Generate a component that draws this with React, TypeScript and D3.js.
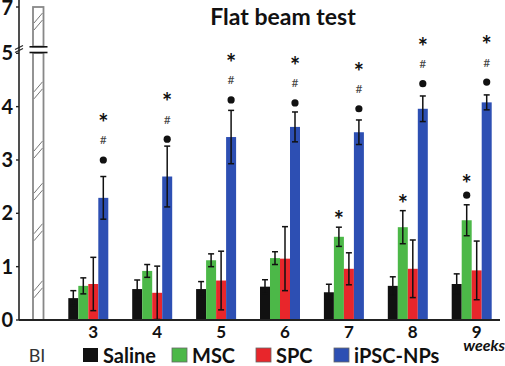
import React from "react";
import * as d3 from "d3";

const weeks = ["3", "4", "5", "6", "7", "8", "9"];
const series = ["Saline", "MSC", "SPC", "iPSC-NPs"];
const colors = ["#111111", "#4cb848", "#e8262b", "#2d4fb3"];
const salineMean = [0.41, 0.58, 0.58, 0.625, 0.52, 0.64, 0.675];
const salineErr = [0.14, 0.17, 0.14, 0.13, 0.15, 0.17, 0.19];
const mscMean = [0.64, 0.92, 1.12, 1.16, 1.56, 1.74, 1.87];
const mscErr = [0.15, 0.12, 0.12, 0.12, 0.18, 0.31, 0.29];
const spcMean = [0.675, 0.51, 0.74, 1.15, 0.96, 0.96, 0.93];
const spcErr = [0.5, 0.5, 0.55, 0.6, 0.3, 0.54, 0.55];
const ipscMean = [2.29, 2.69, 3.43, 3.62, 3.52, 3.96, 4.08];
const ipscErr = [0.4, 0.57, 0.5, 0.28, 0.23, 0.24, 0.14];
const yTicksLower = [0, 1, 2, 3, 4, 5];
const yTicksUpper = [7];
const blValue = 7;
// significance markers: symbols (bottom->top), base value of lowest symbol
const ipscMarkerBase = [3.0, 3.39, 4.125, 4.07, 3.96, 4.43, 4.46];
const ipscSymbols = ["dot", "#", "*"];
const mscMarkers: [number, string[], number][] = [
  [4, ["*"], 1.91],
  [5, ["*"], 2.21],
  [6, ["dot", "*"], 2.34],
];
const hatchValues = [4.39, 3.28, 2.49, 1.73, 0.66];
const hatchUpper = [6.5];

const means = [salineMean, mscMean, spcMean, ipscMean];
const errs = [salineErr, mscErr, spcErr, ipscErr];

const W = 505;
const H = 366;
const FONT = "Lato, 'Open Sans', sans-serif";

export default function App() {
  const y = d3.scaleLinear().domain([0, 5]).range([320, 53.3]);
  const yUp = d3.scaleLinear().domain([5, 7]).range([47, 7]);
  const x = d3.scalePoint().domain(weeks).range([88.3, 471.7]);
  const inner = d3.scaleBand().domain(series).range([-20, 20]).padding(0);
  const axisX = 19;
  const blX0 = 33;
  const blX1 = 43.5;

  const markerEls: React.ReactNode[] = [];
  const drawSymbols = (cx: number, syms: string[], base: number, spacing: number, key: string) => {
    const tspans: React.ReactNode[] = [];
    syms.forEach((s, i) => {
      const cy = y(base) - i * spacing;
      if (s === "dot") {
        markerEls.push(<circle key={key + "d" + i} cx={cx} cy={cy} r={3.6} fill="#111" />);
      } else if (s === "#") {
        tspans.push(
          <tspan key={i} x={cx} y={cy + 4} fontSize={12} fill="#444" fontWeight="normal">
            #
          </tspan>
        );
      } else {
        tspans.push(
          <tspan key={i} x={cx} y={cy + 11} fontSize={24} fontWeight="bold" fill="#111">
            *
          </tspan>
        );
      }
    });
    markerEls.push(
      <text key={key + "t"} textAnchor="middle" fontFamily={FONT}>
        {tspans}
      </text>
    );
  };
  weeks.forEach((w, wi) => {
    const cx = (x(w) as number) + (inner("iPSC-NPs") as number) + inner.bandwidth() / 2;
    drawSymbols(cx, ipscSymbols, ipscMarkerBase[wi], 19.5, "ip" + wi);
  });
  mscMarkers.forEach(([wi, syms, base]) => {
    const cx = (x(weeks[wi]) as number) + (inner("MSC") as number) + inner.bandwidth() / 2;
    drawSymbols(cx, syms, base, 13, "ms" + wi);
  });

  const hatch = (yc: number, k: string) => (
    <g key={k} stroke="#777" strokeWidth={1}>
      <line x1={blX0 + 1} y1={yc + 6} x2={blX1 - 1} y2={yc - 4} />
      <line x1={blX0 + 1} y1={yc + 13} x2={blX1 - 1} y2={yc + 3} />
    </g>
  );

  return (
    <svg width={W} height={H} style={{ position: "absolute", left: 0, top: 0, background: "#fff" }}>
      <rect width={W} height={H} fill="#fff" />
      {/* title */}
      <text x={283} y={25} textAnchor="middle" fontSize={23} fontWeight="bold" fontFamily={FONT} fill="#111">
        Flat beam test
      </text>

      {/* BI bar with break */}
      <rect x={blX0} y={53} width={blX1 - blX0} height={y(0) - 53} fill="#fff" stroke="#888" strokeWidth={1.8} />
      <rect x={blX0} y={yUp(blValue)} width={blX1 - blX0} height={46.5 - yUp(blValue)} fill="#fff" stroke="#888" strokeWidth={1.8} />
      {hatchValues.map((v, i) => hatch(y(v), "h" + i))}
      {hatchUpper.map((v, i) => hatch(yUp(v), "hu" + i))}
      <line x1={29.5} x2={47.5} y1={46.8} y2={46.8} stroke="#111" strokeWidth={1.6} />
      <line x1={29.5} x2={47.5} y1={52.5} y2={52.5} stroke="#111" strokeWidth={1.6} />

      {/* y axis */}
      <line x1={axisX} x2={axisX} y1={0} y2={y(0)} stroke="#222" strokeWidth={1.6} />
      <line x1={15} x2={23} y1={49.5} y2={45.5} stroke="#222" strokeWidth={1.2} />
      <line x1={15} x2={23} y1={52.5} y2={48.5} stroke="#222" strokeWidth={1.2} />
      {yTicksLower.map((t) => (
        <g key={"yt" + t}>
          <line x1={axisX - 3} x2={axisX} y1={y(t)} y2={y(t)} stroke="#222" strokeWidth={1.4} />
          <text x={13} y={y(t) + 7} textAnchor="end" fontSize={20} fontWeight="bold" fontFamily={FONT} fill="#111">
            {t}
          </text>
        </g>
      ))}
      {yTicksUpper.map((t) => (
        <g key={"ytu" + t}>
          <line x1={axisX - 3} x2={axisX} y1={yUp(t)} y2={yUp(t)} stroke="#222" strokeWidth={1.4} />
          <text x={13} y={yUp(t) + 8} textAnchor="end" fontSize={20} fontWeight="bold" fontFamily={FONT} fill="#111">
            {t}
          </text>
        </g>
      ))}

      {/* bars */}
      {weeks.map((w, wi) =>
        series.map((s, si) => {
          const bx = (x(w) as number) + (inner(s) as number);
          const v = means[si][wi];
          return (
            <rect key={w + s} x={bx} y={y(v)} width={inner.bandwidth()} height={y(0) - y(v)} fill={colors[si]} />
          );
        })
      )}
      {/* error bars */}
      {weeks.map((w, wi) =>
        series.map((s, si) => {
          const cx = (x(w) as number) + (inner(s) as number) + inner.bandwidth() / 2;
          const v = means[si][wi];
          const e = errs[si][wi];
          return (
            <g key={"e" + w + s} stroke="#111" strokeWidth={1.5}>
              <line x1={cx} x2={cx} y1={y(v + e)} y2={y(v - e)} />
              <line x1={cx - 3} x2={cx + 3} y1={y(v + e)} y2={y(v + e)} />
              <line x1={cx - 3} x2={cx + 3} y1={y(v - e)} y2={y(v - e)} />
            </g>
          );
        })
      )}
      {markerEls}

      {/* x axis */}
      <line x1={axisX} x2={500} y1={y(0)} y2={y(0)} stroke="#222" strokeWidth={1.8} />
      {weeks.map((w) => (
        <text key={"xl" + w} x={(x(w) as number) + 5} y={338} textAnchor="middle" fontSize={17} fontWeight="bold" fontFamily={FONT} fill="#111">
          {w}
        </text>
      ))}
      <text x={505} y={351} textAnchor="end" fontSize={16} fontWeight="bold" fontStyle="italic" fontFamily={FONT} fill="#111">
        weeks
      </text>
      <text x={37} y={362} textAnchor="middle" fontSize={18} fontFamily={FONT} fill="#333">
        BI
      </text>

      {/* legend */}
      {series.map((s, si) => {
        const lx = [83, 172, 256, 334][si];
        return (
          <g key={"lg" + s}>
            <rect x={lx} y={348} width={15} height={14} fill={colors[si]} stroke={si === 0 ? "none" : "#666"} strokeWidth={0.8} />
            <text x={lx + 20} y={363} fontSize={20} fontWeight="bold" fontFamily={FONT} fill="#111">
              {s}
            </text>
          </g>
        );
      })}
    </svg>
  );
}
